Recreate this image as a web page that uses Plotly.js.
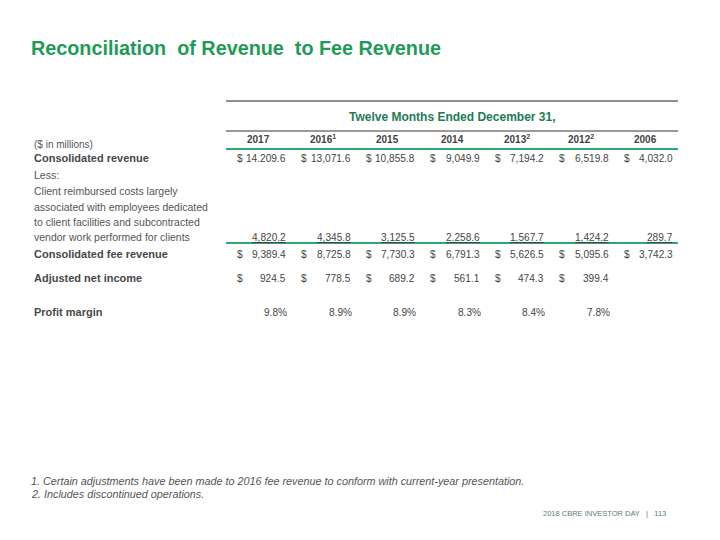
<!DOCTYPE html>
<html>
<head>
<meta charset="utf-8">
<script src="https://cdn.plot.ly/plotly-3.0.1.min.js"></script>
<style>html,body{margin:0;padding:0;background:#fff;}#chart{width:720px;height:540px;}</style>
</head>
<body>
<div id="chart"></div>
<script>
// ---- data ----
const titleText = 'Reconciliation\u00a0 of Revenue\u00a0 to Fee Revenue';
const periodHeader = 'Twelve Months Ended December 31,';
const unitsLabel = '($ in millions)';
const years = ['2017', '2016', '2015', '2014', '2013', '2012', '2006'];
const yearNotes = ['', '1', '', '', '2', '2', ''];
const rowLabels = ['Consolidated revenue', 'Less:', 'Consolidated fee revenue', 'Adjusted net income', 'Profit margin'];
const reimbursedLabelLines = ['Client reimbursed costs largely', 'associated with employees dedicated', 'to client facilities and subcontracted', 'vendor work performed for clients'];
const consolidatedRevenue = ['14.209.6', '13,071.6', '10,855.8', '9,049.9', '7,194.2', '6,519.8', '4,032.0'];
const reimbursedCosts = ['4,820.2', '4,345.8', '3,125.5', '2.258.6', '1.567.7', '1,424.2', '289.7'];
const feeRevenue = ['9,389.4', '8,725.8', '7,730.3', '6,791.3', '5,626.5', '5,095.6', '3,742.3'];
const adjustedNetIncome = ['924.5', '778.5', '689.2', '561.1', '474.3', '399.4', ''];
const profitMargin = ['9.8%', '8.9%', '8.9%', '8.3%', '8.4%', '7.8%', ''];
const footnotes = ['1. Certain adjustments have been made to 2016 fee revenue to conform with current-year presentation.', '2. Includes discontinued operations.'];
const footerText = '2018 CBRE INVESTOR DAY\u00a0\u00a0 |\u00a0\u00a0 113';

// ---- layout geometry & styles ----
const G = {
  x0: 226, x1: 678, labelX: 33,
  dollarOff: 9.5, numOff: 61,
  yTopLine: 101, yPeriod: 117, yGrayLine: 131, yYears: 139, yGreen1: 149, yUnits: 144,
  yRev: 158, yLess: 175, yReimb: [191, 206.5, 222, 237], yGreen2: 243,
  yFee: 254, yAdj: 278, yMargin: 312,
  yTitle: 48, titleX: 30, yFoot: [481, 494], footX: 30, footerX: 667, footerY: 513
};
const FONT = 'Arial, "Liberation Sans", sans-serif';
const numColor = '#454545', labelColor = '#484848', lightColor = '#555555';
const numSize = 10.1;
const green = '#2fa676';
const colW = (G.x1 - G.x0) / years.length;
const colStart = i => G.x0 + colW * i;

const ann = [];
function txt(x, y, text, opts) {
  opts = opts || {};
  ann.push({
    x: x, y: y, xref: 'x', yref: 'y', text: text, showarrow: false,
    xanchor: opts.xanchor || 'left', yanchor: 'middle', borderpad: 0,
    font: Object.assign({family: FONT, size: numSize, color: numColor}, opts.font || {})
  });
}

// title
txt(G.titleX, G.yTitle, '<b>' + titleText + '</b>', {font: {size: 19.8, color: '#1e9b57'}});
// period header
txt((G.x0 + G.x1) / 2, G.yPeriod, '<b>' + periodHeader + '</b>', {xanchor: 'center', font: {size: 12, color: '#237a57'}});
// year headers
years.forEach((y, i) => {
  const t = '<b>' + y + (yearNotes[i] ? '<sup>' + yearNotes[i] + '</sup>' : '') + '</b>';
  txt(colStart(i) + colW / 2, G.yYears, t, {xanchor: 'center', font: {size: 10, color: '#444'}});
});
// units
txt(G.labelX, G.yUnits, unitsLabel, {font: {size: 10, color: lightColor}});
// row labels
const boldLabel = {size: 11, color: labelColor, weight: 'bold'};
txt(G.labelX, G.yRev, rowLabels[0], {font: boldLabel});
txt(G.labelX, G.yLess, rowLabels[1], {font: {size: 10.5, color: lightColor}});
reimbursedLabelLines.forEach((l, k) => txt(G.labelX, G.yReimb[k], l, {font: {size: 10.5, color: lightColor}}));
txt(G.labelX, G.yFee, rowLabels[2], {font: boldLabel});
txt(G.labelX, G.yAdj, rowLabels[3], {font: boldLabel});
txt(G.labelX, G.yMargin, rowLabels[4], {font: boldLabel});

// value rows
function dollarRow(vals, y) {
  vals.forEach((v, i) => {
    if (!v) return;
    txt(colStart(i) + G.dollarOff, y, '$', {});
    txt(colStart(i) + G.numOff, y, v, {xanchor: 'right'});
  });
}
dollarRow(consolidatedRevenue, G.yRev);
reimbursedCosts.forEach((v, i) => txt(colStart(i) + G.numOff, G.yReimb[3], v, {xanchor: 'right', font: {lineposition: 'under'}}));
dollarRow(feeRevenue, G.yFee);
dollarRow(adjustedNetIncome, G.yAdj);
profitMargin.forEach((v, i) => { if (v) txt(colStart(i) + G.numOff + 1, G.yMargin, v, {xanchor: 'right'}); });

// footnotes
footnotes.forEach((f, k) => txt(G.footX, G.yFoot[k], f, {font: {size: 10.8, style: 'italic', color: lightColor}}));
txt(G.footerX, G.footerY, footerText, {xanchor: 'right', font: {size: 7.5, color: '#5d7d6d'}});

// lines
const shapes = [
  {y: G.yTopLine, color: '#222', w: 1},
  {y: G.yGrayLine, color: '#9a9a9a', w: 2},
  {y: G.yGreen1, color: green, w: 2},
  {y: G.yGreen2, color: green, w: 2}
].map(s => ({type: 'line', xref: 'x', yref: 'y', x0: G.x0, x1: G.x1, y0: s.y, y1: s.y, line: {color: s.color, width: s.w}}));

const layout = {
  width: 720, height: 540,
  margin: {l: 0, r: 0, t: 0, b: 0},
  paper_bgcolor: '#fff', plot_bgcolor: '#fff',
  xaxis: {range: [0, 720], visible: false, fixedrange: true},
  yaxis: {range: [540, 0], visible: false, fixedrange: true},
  showlegend: false,
  annotations: ann,
  shapes: shapes
};
Plotly.newPlot('chart', [{x: [], y: [], type: 'scatter', hoverinfo: 'skip'}], layout, {displayModeBar: false, staticPlot: true});
</script>
</body>
</html>
